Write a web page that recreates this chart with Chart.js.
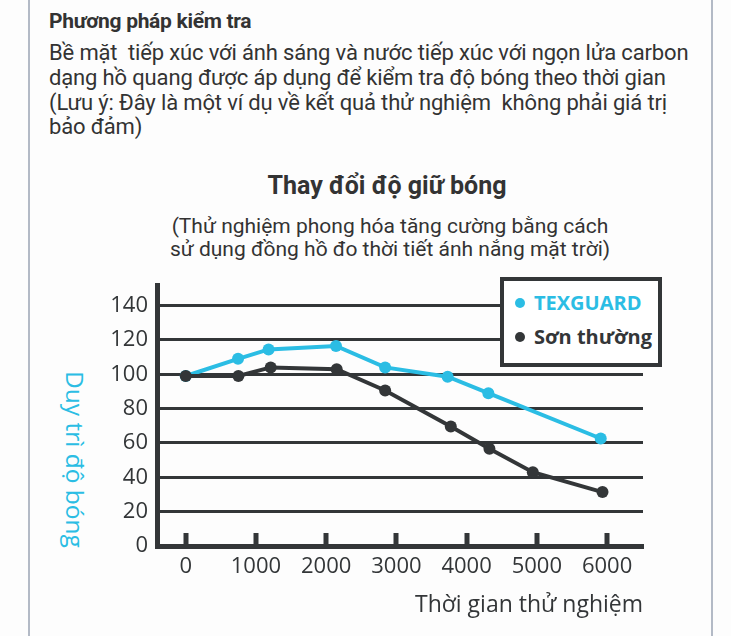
<!DOCTYPE html>
<html>
<head>
<meta charset="utf-8">
<script src="https://cdn.jsdelivr.net/npm/chart.js@4/dist/chart.umd.min.js"></script>
<style>
  html, body { margin:0; padding:0; width:731px; height:636px; overflow:hidden; background:#fdfdfd; }
  .frame { position:absolute; top:0; height:636px; width:2px; background:#b3bac6; }
  #hdr { position:absolute; left:49px; top:9px; font-family:Roboto, sans-serif; font-weight:700; font-size:21px; color:#333; letter-spacing:-0.3px; line-height:24px; white-space:pre; }
  #body { position:absolute; left:49px; top:41px; font-family:Roboto, sans-serif; font-size:22px; color:#333; line-height:24.8px; letter-spacing:-0.15px; white-space:pre; }
  #title { position:absolute; left:187px; width:400px; top:171px; text-align:center; font-family:Roboto, sans-serif; font-weight:700; font-size:25px; color:#333; line-height:30px; }
  #sub { position:absolute; left:140px; width:500px; top:215px; text-align:center; font-family:Roboto, sans-serif; font-size:21px; color:#333; line-height:22.5px; white-space:pre; }
  #ytitle { position:absolute; left:61px; top:371px; writing-mode:vertical-rl; font-family:"Open Sans", sans-serif; font-size:24.5px; line-height:28px; color:#2bbde4; white-space:pre; }
  #legend { position:absolute; left:500px; top:277px; width:162px; height:90px; box-sizing:border-box; border:4px solid #333638; background:#fff; font-family:"Open Sans", sans-serif; font-weight:700; font-size:20px; }
  .row { position:absolute; left:0; height:28px; line-height:28px; white-space:pre; }
  .dot { position:absolute; left:11px; top:9px; width:10px; height:10px; border-radius:50%; }
  .lab { position:absolute; left:30px; top:0; }
  canvas { position:absolute; left:0; top:0; }
</style>
</head>
<body>
<div class="frame" style="left:28px"></div>
<div class="frame" style="left:711px"></div>
<div id="hdr">Phương pháp kiểm tra</div>
<div id="body">Bề mặt  tiếp xúc với ánh sáng và nước tiếp xúc với ngọn lửa carbon
dạng hồ quang được áp dụng để kiểm tra độ bóng theo thời gian
(Lưu ý: Đây là một ví dụ về kết quả thử nghiệm  không phải giá trị
bảo đảm)</div>
<div id="title">Thay đổi độ giữ bóng</div>
<div id="sub">(Thử nghiệm phong hóa tăng cường bằng cách
sử dụng đồng hồ đo thời tiết ánh nắng mặt trời)</div>
<div id="ytitle">Duy trì độ bóng</div>
<canvas id="c" width="731" height="636"></canvas>
<div id="legend"></div>
<script>
// ---- data ----
const seriesNames = ["TEXGUARD", "Sơn thường"];
const texguardX = [0, 745, 1180, 2140, 2840, 3730, 4310, 5910];
const texguardY = [99, 109, 114.5, 116.5, 104, 98.6, 89, 62.6];
const normalX = [0, 750, 1210, 2150, 2840, 3775, 4325, 4943, 5935];
const normalY = [99, 99, 104, 103, 90.6, 69.6, 56.6, 43, 31.4];
const xTickValues = [0, 1000, 2000, 3000, 4000, 5000, 6000];
const xTickLabels = ["0", "1000", "2000", "3000", "4000", "5000", "6000"];
const yTickValues = [0, 20, 40, 60, 80, 100, 120, 140];
const yTickLabels = ["0", "20", "40", "60", "80", "100", "120", "140"];
const xTitle = "Thời gian thử nghiệm";

const CYAN = "#2bbde4";
const DARK = "#333638";

function pts(xs, ys) { return xs.map((x, i) => ({ x: x, y: ys[i] })); }

// HTML legend
const legendEl = document.getElementById('legend');
[[seriesNames[0], CYAN, 8], [seriesNames[1], DARK, 42]].forEach(([name, col, top]) => {
  const r = document.createElement('div');
  r.className = 'row'; r.style.top = top + 'px';
  r.innerHTML = '<span class="dot" style="background:' + col + '"></span><span class="lab" style="color:' + col + '">' + name + '</span>';
  legendEl.appendChild(r);
});

const tickMarks = {
  id: 'tickMarks',
  afterDatasetsDraw(chart) {
    const { ctx, scales: { x }, chartArea } = chart;
    ctx.save();
    ctx.fillStyle = DARK;
    xTickValues.forEach(v => {
      const px = x.getPixelForValue(v);
      ctx.fillRect(Math.round(px) - 2.5, chartArea.bottom - 13, 5, 13);
    });
    ctx.restore();
  }
};

new Chart(document.getElementById('c'), {
  type: 'line',
  data: {
    datasets: [
      { label: seriesNames[1], data: pts(normalX, normalY), borderColor: DARK, backgroundColor: DARK,
        borderWidth: 4, pointRadius: 6, pointBorderWidth: 0, tension: 0, order: 0 },
      { label: seriesNames[0], data: pts(texguardX, texguardY), borderColor: CYAN, backgroundColor: CYAN,
        borderWidth: 4, pointRadius: 6, pointBorderWidth: 0, tension: 0, order: 1 }
    ]
  },
  options: {
    responsive: false,
    devicePixelRatio: 1,
    animation: false,
    events: [],
    layout: { padding: { top: 285, right: 88, bottom: 9, left: 0 } },
    plugins: { legend: { display: false }, tooltip: { enabled: false }, title: { display: false } },
    scales: {
      x: {
        type: 'linear', min: -409, max: 6512,
        afterFit(s) { s.height = 81; },
        afterBuildTicks(s) { s.ticks = xTickValues.map(v => ({ value: v })); },
        grid: { display: true, drawOnChartArea: false, drawTicks: false, color: 'rgba(0,0,0,0)' },
        border: { display: true, width: 5, color: DARK },
        ticks: { padding: 8, color: DARK, font: { family: 'Open Sans', size: 22 }, maxRotation: 0, autoSkip: false,
                 callback: (v) => { const i = xTickValues.indexOf(v); return i >= 0 ? xTickLabels[i] : ''; } },
        title: { display: true, text: xTitle, align: 'end', color: DARK,
                 font: { family: 'Open Sans', size: 23 }, padding: { top: 10, bottom: 8 } }
      },
      y: {
        type: 'linear', min: 0, max: 152,
        afterFit(s) { s.width = 157; },
        afterBuildTicks(s) { s.ticks = yTickValues.map(v => ({ value: v })); },
        grid: { color: DARK, lineWidth: 3, drawTicks: false },
        border: { display: true, width: 5, color: DARK },
        ticks: { padding: 9, color: DARK, font: { family: 'Open Sans', size: 22 },
                 callback: (v) => { const i = yTickValues.indexOf(v); return i >= 0 ? yTickLabels[i] : ''; } }
      }
    }
  },
  plugins: [tickMarks]
});
</script>
</body>
</html>
